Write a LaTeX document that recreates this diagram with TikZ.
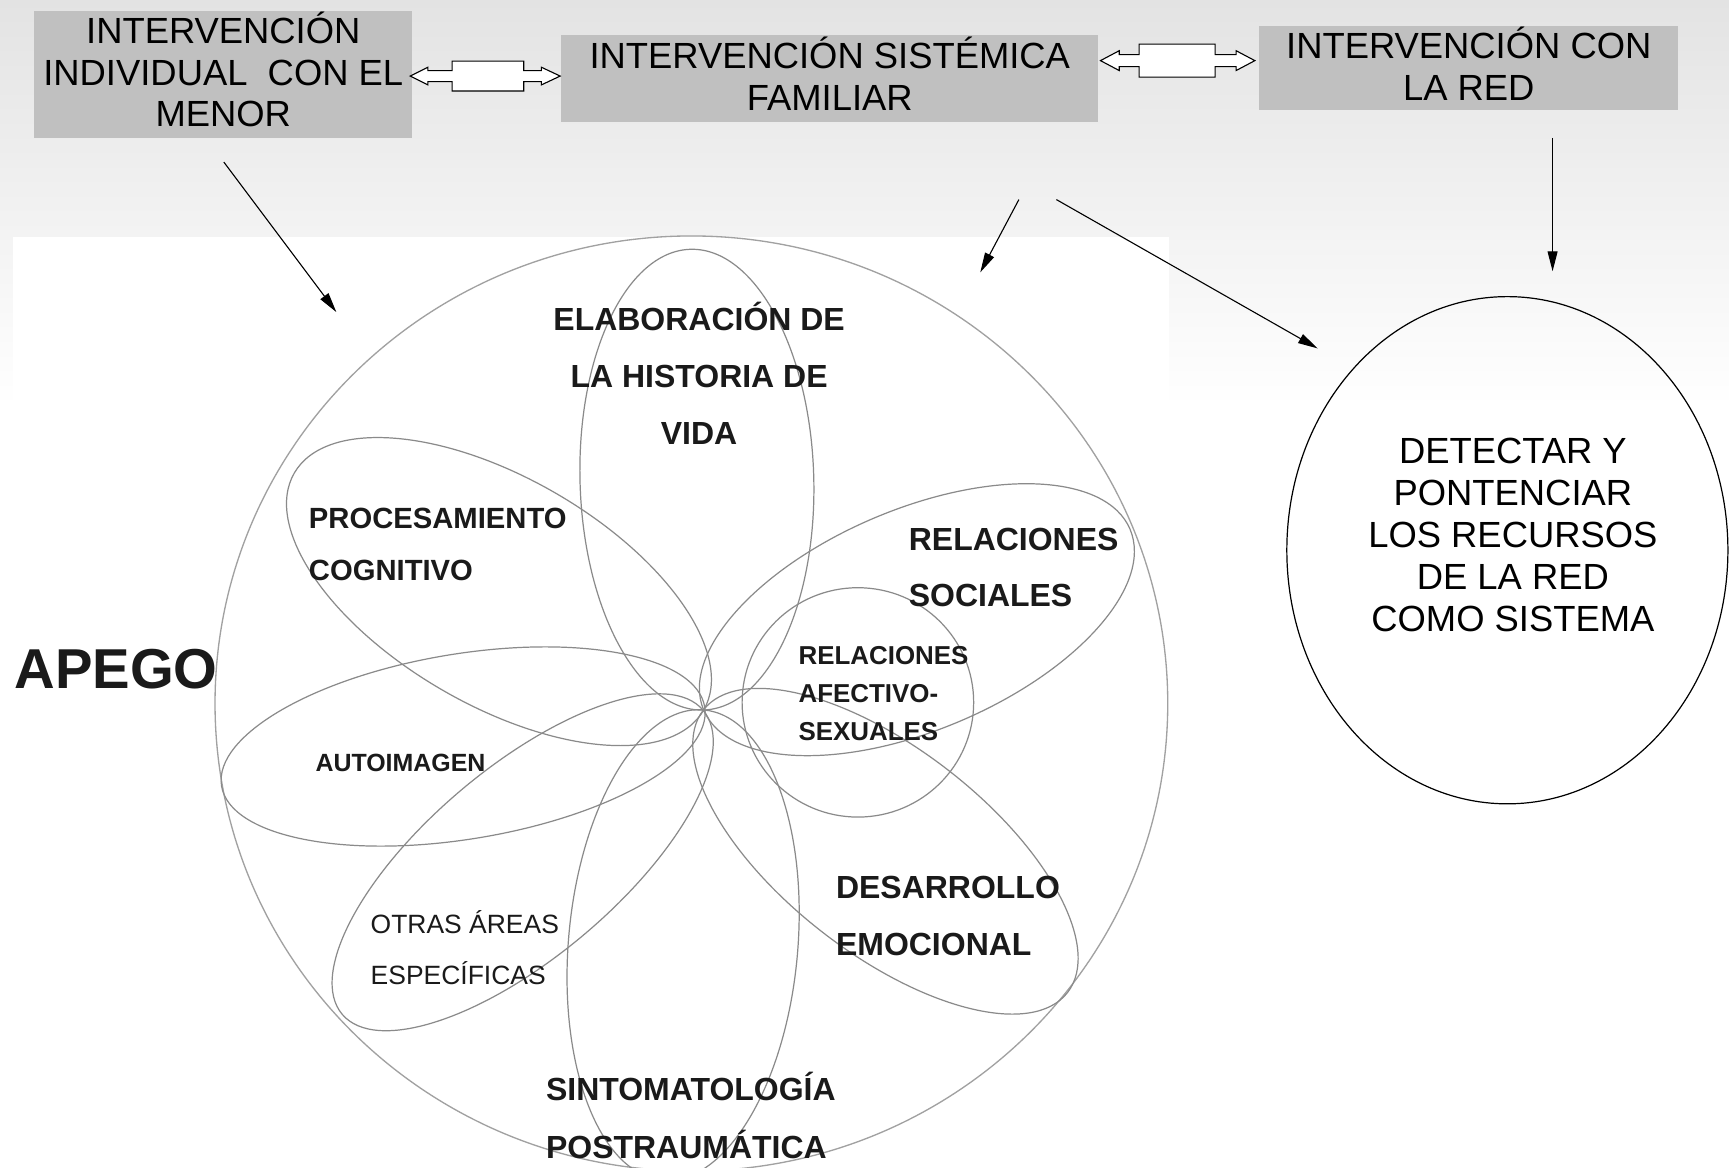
\documentclass[tikz,border=0pt]{standalone}
\usepackage{fontspec}
\setmainfont{Liberation Sans}
\usetikzlibrary{arrows.meta,shapes.geometric}
\definecolor{boxgray}{HTML}{C0C0C0}
\definecolor{bgtop}{HTML}{E3E3E3}
\definecolor{petalgray}{HTML}{8A8A8A}
\definecolor{labink}{HTML}{1A1A1A}
\begin{document}
\begin{tikzpicture}[x=1pt,y=1pt,
  box/.style={fill=boxgray, inner sep=0pt},
  boxtext/.style={inner sep=0pt, align=center, font=\fontsize{33}{38}\selectfont},
  petal/.style={draw=petalgray, line width=1.1pt},
  conn/.style={-{Triangle[length=18pt,width=9pt]}, line width=1pt},
  blockarrow/.style={draw=black, fill=white, line width=1pt, line join=miter},
  lab/.style={inner sep=0pt, text=labink, font=\bfseries\fontsize{#1}{#1}\selectfont},
  labr/.style={inner sep=0pt, text=labink, font=\fontsize{#1}{#1}\selectfont},
]
\useasboundingbox (0,0) rectangle (1568,1059);
\clip (0,0) rectangle (1568,1059);
% background
\fill[top color=bgtop, bottom color=white] (0,690) rectangle (1568,1059);
\fill[white] (0,0) rectangle (1568,690);
\fill[white] (12,0) rectangle (1060,844);

% top boxes
\node[box, minimum width=343pt, minimum height=115pt] (b1) at (202.5,991.5) {};
\node[boxtext, yshift=4.5pt] (b1t) at (b1.center) {INTERVENCIÓN\\INDIVIDUAL\ \ CON EL\\MENOR};
\node[box, minimum width=487pt, minimum height=79pt] (b2) at (752.5,987.5) {};
\node[boxtext, yshift=5pt] (b2t) at (b2.center) {INTERVENCIÓN SISTÉMICA\\FAMILIAR};
\node[box, minimum width=380pt, minimum height=76pt] (b3) at (1332,997) {};
\node[boxtext, yshift=4pt] (b3t) at (b3.center) {INTERVENCIÓN CON\\LA RED};

% double block arrows
\draw[blockarrow] (372,990) -- (388,998) -- (388,995) -- (410,995) -- (410,1003.5) -- (475,1003.5) -- (475,995) -- (491,995) -- (491,998) -- (508,990) -- (491,982) -- (491,985) -- (475,985) -- (475,976.5) -- (410,976.5) -- (410,985) -- (388,985) -- (388,982) -- cycle;
\draw[blockarrow] (998,1004) -- (1015,1013) -- (1015,1009.5) -- (1033,1009.5) -- (1033,1019) -- (1102,1019) -- (1102,1009.5) -- (1121,1009.5) -- (1121,1013) -- (1138,1004) -- (1121,995) -- (1121,998.5) -- (1102,998.5) -- (1102,989) -- (1033,989) -- (1033,998.5) -- (1015,998.5) -- (1015,995) -- cycle;

% thin connectors
\coordinate (s1) at (203,912);  \coordinate (e1) at (305,776);
\coordinate (s2) at (924,878);  \coordinate (e2) at (889,812);
\coordinate (s3) at (958,878);  \coordinate (e3) at (1195,743);
\coordinate (s4) at (1408,934); \coordinate (e4) at (1408,813);
\draw[conn] (s1) -- (e1);
\draw[conn] (s2) -- (e2);
\draw[conn] (s3) -- (e3);
\draw[conn] (s4) -- (e4);

% right ellipse
\node[draw, ellipse, minimum width=400pt, minimum height=460pt, line width=1.1pt, inner sep=0pt] (net) at (1367,560) {};
\node[align=center, inner sep=0pt, font=\fontsize{33}{38}\selectfont] (nett) at (1372,574) {DETECTAR Y\\PONTENCIAR\\LOS RECURSOS\\DE LA RED\\COMO SISTEMA};

% flower
\draw[draw=petalgray!80, line width=1.2pt] (627,421) ellipse [x radius=432pt, y radius=424pt];
\draw[petal, rotate around={91.6:(632,624)}] (632,624) ellipse [x radius=209pt, y radius=106pt];
\draw[petal, rotate around={265:(619.5,202)}] (619.5,202) ellipse [x radius=214pt, y radius=104pt];
\draw[petal, rotate around={149.9:(452.5,522.5)}] (452.5,522.5) ellipse [x radius=214.5pt, y radius=103pt];
\draw[petal, rotate around={189.3:(420,382)}] (420,382) ellipse [x radius=222pt, y radius=84pt];
\draw[petal, rotate around={220.1:(474,277)}] (474,277) ellipse [x radius=214pt, y radius=86pt];
\draw[petal, rotate around={-37.8:(803,287)}] (803,287) ellipse [x radius=209pt, y radius=93pt];
\draw[petal, rotate around={23:(831.5,497)}] (831.5,497) ellipse [x radius=210pt, y radius=100pt];
\draw[petal] (778,422) ellipse [x radius=105pt, y radius=104pt];

% flower labels
\node[lab=29, anchor=base] (t1a) at (634,759.6) {ELABORACIÓN DE};
\node[lab=29, anchor=base] (t1b) at (634,707.6) {LA HISTORIA DE};
\node[lab=29, anchor=base] (t1c) at (634,655.6) {VIDA};
\node[lab=26.5, anchor=base west] (t2a) at (280,579.5) {PROCESAMIENTO};
\node[lab=26.5, anchor=base west] (t2b) at (280,532.5) {COGNITIVO};
\node[lab=29, anchor=base west] (t3a) at (824,559.6) {RELACIONES};
\node[lab=29, anchor=base west] (t3b) at (824,508.6) {SOCIALES};
\node[lab=23.5, anchor=base west] (t4a) at (724,456.6) {RELACIONES};
\node[lab=23.5, anchor=base west] (t4b) at (724,421.6) {AFECTIVO-};
\node[lab=23.5, anchor=base west] (t4c) at (724,387.6) {SEXUALES};
\node[lab=51, anchor=base west] (t5) at (13,434.4) {APEGO};
\node[lab=22.6, anchor=base west] (t6) at (286,358.9) {AUTOIMAGEN};
\node[labr=24, anchor=base west] (t7a) at (336,212.4) {OTRAS ÁREAS};
\node[labr=24, anchor=base west] (t7b) at (336,166.4) {ESPECÍFICAS};
\node[lab=29, anchor=base west] (t8a) at (758,244.6) {DESARROLLO};
\node[lab=29, anchor=base west] (t8b) at (758,192.6) {EMOCIONAL};
\node[lab=29, anchor=base west] (t9a) at (495,60.6) {SINTOMATOLOGÍA};
\node[lab=29, anchor=base west] (t9b) at (495,8.6) {POSTRAUMÁTICA};
\end{tikzpicture}
\end{document}
